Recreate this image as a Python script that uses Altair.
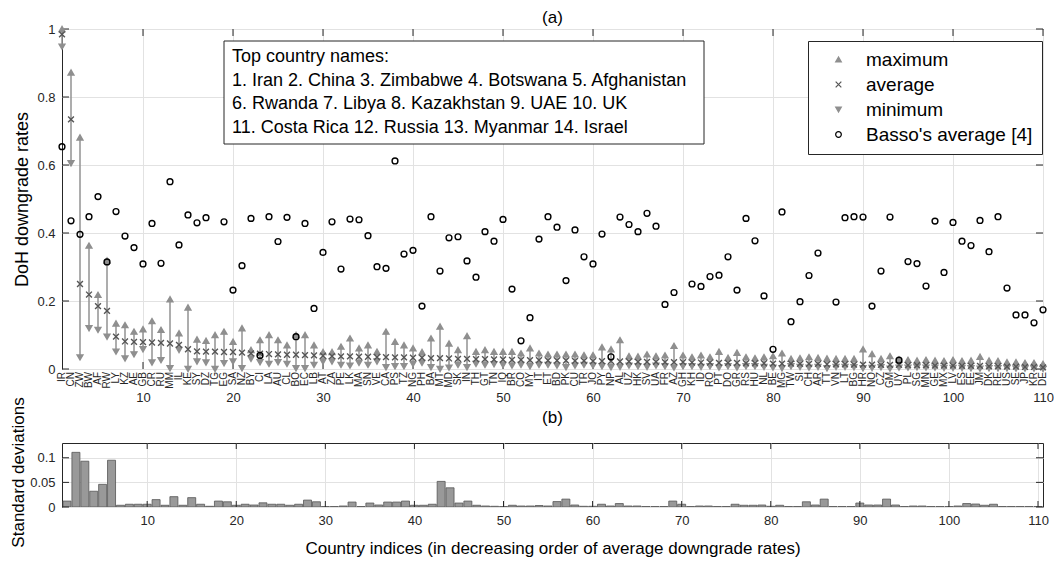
import altair as alt
import pandas as pd
import numpy as np

codes = ["IR", "CN", "ZW", "BW", "AF", "RW", "LY", "KZ", "AE", "GB",
         "CR", "RU", "MM", "IL", "KE", "SY", "DZ", "TG", "EG", "SA",
         "NZ", "BY", "CI", "LA", "AU", "CL", "BO", "EC", "LB", "AT",
         "ZA", "PE", "LK", "MA", "SN", "VE", "CA", "PS", "TZ", "NG",
         "PH", "BA", "MT", "MD", "SK", "IN", "TH", "GT", "TN", "IQ",
         "BR", "CO", "MY", "IT", "ET", "BD", "PK", "CU", "TR", "JO",
         "PY", "NP", "AL", "UZ", "HK", "SV", "UA", "FR", "AZ", "GH",
         "KH", "ID", "RO", "PT", "DO", "GR", "RS", "HU", "NL", "BE",
         "MG", "TW", "SI", "CH", "AR", "TT", "VN", "LT", "BG", "HR",
         "NO", "CZ", "GM", "UY", "PL", "SG", "MN", "GE", "MX", "LV",
         "ES", "EE", "JM", "DK", "RE", "US", "SE", "JP", "KR", "DE"]

avg = [0.984, 0.734, 0.250, 0.219, 0.185, 0.171, 0.095, 0.081, 0.080, 0.079,
       0.078, 0.077, 0.075, 0.071, 0.058, 0.052, 0.051, 0.051, 0.050, 0.050,
       0.048, 0.046, 0.045, 0.044, 0.043, 0.042, 0.042, 0.041, 0.040, 0.039,
       0.038, 0.037, 0.037, 0.036, 0.036, 0.035, 0.035, 0.034, 0.034, 0.033,
       0.033, 0.032, 0.032, 0.031, 0.030, 0.030, 0.029, 0.029, 0.028, 0.028,
       0.027, 0.027, 0.026, 0.026, 0.025, 0.025, 0.025, 0.024, 0.024, 0.023,
       0.023, 0.023, 0.022, 0.022, 0.021, 0.021, 0.021, 0.020, 0.020, 0.020,
       0.019, 0.019, 0.019, 0.018, 0.018, 0.018, 0.017, 0.017, 0.017, 0.016,
       0.016, 0.016, 0.015, 0.015, 0.015, 0.014, 0.014, 0.014, 0.013, 0.013,
       0.013, 0.012, 0.012, 0.012, 0.011, 0.011, 0.011, 0.010, 0.010, 0.010,
       0.009, 0.009, 0.009, 0.008, 0.008, 0.007, 0.007, 0.006, 0.006, 0.005]

maxima = [1.000, 0.872, 0.681, 0.363, 0.218, 0.319, 0.134, 0.129, 0.110, 0.117,
          0.141, 0.115, 0.205, 0.105, 0.181, 0.087, 0.083, 0.100, 0.110, 0.080,
          0.120, 0.056, 0.085, 0.100, 0.085, 0.070, 0.100, 0.100, 0.070, 0.050,
          0.050, 0.066, 0.090, 0.061, 0.070, 0.051, 0.110, 0.080, 0.070, 0.061,
          0.050, 0.090, 0.125, 0.075, 0.056, 0.097, 0.051, 0.056, 0.051, 0.051,
          0.051, 0.046, 0.061, 0.046, 0.043, 0.043, 0.043, 0.043, 0.041, 0.041,
          0.064, 0.058, 0.085, 0.038, 0.037, 0.043, 0.038, 0.040, 0.068, 0.040,
          0.035, 0.040, 0.035, 0.051, 0.033, 0.048, 0.035, 0.032, 0.035, 0.038,
          0.046, 0.030, 0.032, 0.035, 0.033, 0.031, 0.030, 0.030, 0.030, 0.058,
          0.044, 0.030, 0.038, 0.028, 0.027, 0.025, 0.027, 0.025, 0.024, 0.027,
          0.024, 0.025, 0.036, 0.025, 0.024, 0.020, 0.020, 0.018, 0.018, 0.015]

minima = [0.948, 0.605, 0.034, 0.120, 0.115, 0.095, 0.051, 0.031, 0.043, 0.058,
          0.019, 0.026, 0.002, 0.056, 0.000, 0.022, 0.019, 0.000, 0.017, 0.022,
          0.002, 0.030, 0.020, 0.015, 0.020, 0.015, 0.002, 0.002, 0.012, 0.022,
          0.022, 0.012, 0.010, 0.018, 0.012, 0.022, 0.005, 0.008, 0.008, 0.015,
          0.018, 0.005, 0.000, 0.004, 0.012, 0.005, 0.015, 0.012, 0.014, 0.012,
          0.010, 0.012, 0.008, 0.012, 0.012, 0.010, 0.005, 0.010, 0.012, 0.010,
          0.008, 0.005, 0.006, 0.010, 0.008, 0.006, 0.010, 0.008, 0.004, 0.008,
          0.008, 0.006, 0.008, 0.004, 0.008, 0.004, 0.008, 0.008, 0.006, 0.004,
          0.002, 0.008, 0.006, 0.004, 0.006, 0.002, 0.006, 0.006, 0.005, 0.002,
          0.003, 0.005, 0.001, 0.004, 0.004, 0.005, 0.004, 0.004, 0.003, 0.003,
          0.003, 0.002, 0.001, 0.002, 0.002, 0.002, 0.001, 0.001, 0.001, 0.000]

basso = [0.654, 0.436, 0.396, 0.448, 0.507, 0.315, 0.463, 0.391, 0.357, 0.309,
         0.428, 0.311, 0.551, 0.365, 0.453, 0.430, 0.445, None, 0.433, 0.232,
         0.304, 0.443, 0.040, 0.448, 0.375, 0.446, 0.095, 0.428, 0.178, 0.343,
         0.433, 0.294, 0.441, 0.439, 0.392, 0.301, 0.296, 0.612, 0.338, 0.349,
         0.185, 0.448, 0.288, 0.386, 0.389, 0.318, 0.270, 0.404, 0.376, 0.440,
         0.235, 0.083, 0.151, 0.382, 0.448, 0.417, 0.260, 0.409, 0.330, 0.309,
         0.397, 0.036, 0.447, 0.425, 0.404, 0.458, 0.420, 0.190, 0.225, None,
         0.250, 0.243, 0.272, 0.276, 0.330, 0.232, 0.443, 0.377, 0.215, 0.058,
         0.462, 0.139, 0.198, 0.275, 0.341, None, 0.197, 0.445, 0.448, 0.447,
         0.185, 0.288, 0.447, 0.026, 0.316, 0.310, 0.244, 0.435, 0.284, 0.431,
         0.376, 0.363, 0.437, 0.345, 0.448, 0.238, 0.159, 0.159, 0.136, 0.174]

stdev = [0.012, 0.111, 0.093, 0.032, 0.046, 0.095, 0.0035, 0.0056, 0.0056, 0.0056,
         0.015, 0.0035, 0.021, 0.0035, 0.019, 0.0056, 0.0014, 0.012, 0.0106, 0.0035,
         0.0056, 0.004, 0.0085, 0.0056, 0.0056, 0.0035, 0.0056, 0.014, 0.0106, 0.001,
         0.001, 0.002, 0.010, 0.001, 0.008, 0.004, 0.010, 0.010, 0.012, 0.0035,
         0.0035, 0.0056, 0.052, 0.039, 0.008, 0.012, 0.0035, 0.002, 0.0014, 0.001,
         0.0035, 0.002, 0.002, 0.003, 0.002, 0.011, 0.016, 0.004, 0.0014, 0.0014,
         0.0056, 0.002, 0.007, 0.002, 0.002, 0.001, 0.001, 0.001, 0.012, 0.0056,
         0.001, 0.002, 0.002, 0.001, 0.001, 0.0056, 0.0035, 0.0035, 0.004, 0.0014,
         0.0035, 0.001, 0.001, 0.0106, 0.004, 0.016, 0.001, 0.001, 0.001, 0.008,
         0.004, 0.004, 0.016, 0.004, 0.001, 0.002, 0.002, 0.001, 0.001, 0.001,
         0.002, 0.007, 0.006, 0.0035, 0.0056, 0.001, 0.001, 0.001, 0.001, 0.001]

series_names = ["maximum", "average", "minimum", "Basso's average [4]"]
box_lines = ["Top country names:",
             "1. Iran 2. China 3. Zimbabwe 4. Botswana 5. Afghanistan",
             "6. Rwanda 7. Libya 8. Kazakhstan 9. UAE 10. UK",
             "11. Costa Rica 12. Russia 13. Myanmar 14. Israel"]
panel_titles = ["(a)", "(b)"]
xticks = [10, 20, 30, 40, 50, 60, 70, 80, 90, 100, 110]
yticks_top = [0, 0.2, 0.4, 0.6, 0.8, 1.0]
yticks_bot = [0, 0.05, 0.1]

idx = list(range(1, len(codes) + 1))
wide = pd.DataFrame({"idx": idx, "code": codes, "avg": avg, "max": maxima,
                     "min": minima, "std": stdev})
long = pd.concat([
    pd.DataFrame({"idx": idx, "value": maxima, "series": "maximum"}),
    pd.DataFrame({"idx": idx, "value": minima, "series": "minimum"}),
    pd.DataFrame({"idx": idx, "value": avg, "series": "average"}),
    pd.DataFrame({"idx": idx, "value": [np.nan if v is None else v for v in basso],
                  "series": "Basso's average [4]"}),
]).dropna()

W, H1, H2 = 981, 340, 64
DARK = "#262626"

xscale_top = alt.Scale(domain=[1, 110], nice=False, zero=False)
x_top = alt.X("idx:Q", scale=xscale_top, title=None,
              axis=alt.Axis(values=xticks, grid=True, ticks=False, domain=False,
                            labelPadding=22, labelFlush=False, labelOverlap=False))


def y_top(field):
    return alt.Y(field, type="quantitative", scale=alt.Scale(domain=[0, 1], nice=False),
                 title="DoH downgrade rates",
                 axis=alt.Axis(values=yticks_top, grid=True, ticks=False, domain=False,
                               labelExpr="format(datum.value, '~g')", labelPadding=7,
                               titleAngle=270, titleBaseline="middle", titleAlign="center",
                               titleX=-40, titleY=H1 / 2, titleFontSize=18))


one = pd.DataFrame({"k": [0]})

rules = alt.Chart(wide).mark_rule(color="#999999", strokeWidth=1.6).encode(
    x=x_top, y=y_top("min"), y2="max")

leg = alt.Legend(orient="none", legendX=746, legendY=12, title=None, labelLimit=400)
points = alt.Chart(long).mark_point(size=34, strokeWidth=1.4, opacity=1, filled=False).encode(
    x=x_top, y=y_top("value"),
    shape=alt.Shape("series:N", legend=leg,
                    scale=alt.Scale(domain=series_names,
                                    range=["triangle-up", "M-1,-1L1,1M-1,1L1,-1",
                                           "triangle-down", "circle"])),
    stroke=alt.Stroke("series:N", legend=leg,
                      scale=alt.Scale(domain=series_names,
                                      range=["#8f8f8f", "#555555", "#8f8f8f", "#000000"])),
    fill=alt.Fill("series:N", legend=leg,
                  scale=alt.Scale(domain=series_names,
                                  range=["#8f8f8f", "transparent", "#8f8f8f", "transparent"])),
)

code_text = alt.Chart(wide).mark_text(angle=270, align="right", baseline="middle",
                                      fontSize=10, color=DARK).encode(
    x=x_top, y=alt.value(H1 + 3), text="code:N")

xt = pd.DataFrame({"idx": xticks})
yt = pd.DataFrame({"value": yticks_top})
tick_top = alt.Chart(xt).mark_rule(color=DARK).encode(x=x_top, y=alt.value(0), y2=alt.value(7))
tick_bottom = alt.Chart(xt).mark_rule(color=DARK).encode(x=x_top, y=alt.value(H1 - 7), y2=alt.value(H1))
tick_left = alt.Chart(yt).mark_rule(color=DARK).encode(y=y_top("value"), x=alt.value(0), x2=alt.value(7))
tick_right = alt.Chart(yt).mark_rule(color=DARK).encode(y=y_top("value"), x=alt.value(W - 7), x2=alt.value(W))

box = alt.Chart(one).mark_rect(fill="white", stroke=DARK, strokeWidth=1).encode(
    x=alt.value(162), x2=alt.value(642), y=alt.value(12), y2=alt.value(115))
box_text = alt.Chart(one).mark_text(text=box_lines, align="left", baseline="top",
                                    fontSize=18, lineHeight=23.5, color="#000000").encode(
    x=alt.value(170), y=alt.value(19))
title_a = alt.Chart(one).mark_text(text=panel_titles[0], align="center", baseline="bottom",
                                   fontSize=17, color="#000000").encode(
    x=alt.value(W / 2), y=alt.value(-2))

top = alt.layer(tick_top, tick_bottom, tick_left, tick_right, rules, points, code_text,
                box, box_text, title_a).properties(width=W, height=H1)

# bottom panel
x_bot = alt.X("idx:Q", scale=alt.Scale(domain=[1, 110], nice=False, zero=False),
              title="Country indices (in decreasing order of average downgrade rates)",
              axis=alt.Axis(values=xticks, grid=True, ticks=False, domain=False,
                            labelPadding=7, titlePadding=13, titleFontSize=17,
                            labelFlush=False, labelOverlap=False))


def y_bot(field):
    return alt.Y(field, type="quantitative", scale=alt.Scale(domain=[0, 0.13], nice=False),
                 title="Standard deviations",
                 axis=alt.Axis(values=yticks_bot, grid=True, ticks=False, domain=False,
                               labelExpr="format(datum.value, '~g')", labelPadding=7,
                               titleAngle=270, titleBaseline="middle", titleAlign="center",
                               titleX=-44, titleY=H2 / 2 - 3, titleFontSize=17))


bars = alt.Chart(wide).mark_bar(width=8, fill="#999999", stroke="#555555",
                                strokeWidth=0.8, clip=True).encode(x=x_bot, y=y_bot("std"))
ytb = pd.DataFrame({"value": yticks_bot})
btick_top = alt.Chart(xt).mark_rule(color=DARK).encode(x=x_bot, y=alt.value(0), y2=alt.value(6))
btick_bottom = alt.Chart(xt).mark_rule(color=DARK).encode(x=x_bot, y=alt.value(H2 - 6), y2=alt.value(H2))
btick_left = alt.Chart(ytb).mark_rule(color=DARK).encode(y=y_bot("value"), x=alt.value(0), x2=alt.value(7))
btick_right = alt.Chart(ytb).mark_rule(color=DARK).encode(y=y_bot("value"), x=alt.value(W - 7), x2=alt.value(W))
title_b = alt.Chart(one).mark_text(text=panel_titles[1], align="center", baseline="bottom",
                                   fontSize=17, color="#000000").encode(
    x=alt.value(W / 2), y=alt.value(-16))

bottom = alt.layer(bars, btick_top, btick_bottom, btick_left, btick_right,
                   title_b).properties(width=W, height=H2)

chart = alt.vconcat(top, bottom, spacing=74, bounds="flush").properties(
    padding={"left": 0, "top": 0, "right": 0, "bottom": 0}
).configure(font="Liberation Sans").configure_view(
    stroke=DARK, strokeWidth=1
).configure_axis(
    labelFontSize=13, labelColor=DARK, titleColor="#000000", titleFontWeight="normal",
    gridColor="#e2e2e2", gridWidth=1
).configure_legend(
    labelFontSize=19, labelColor="#000000", strokeColor=DARK, fillColor="white",
    padding=9, rowPadding=5, symbolOffset=12, labelOffset=18, symbolSize=32,
    symbolStrokeWidth=1.2, labelLimit=400
).configure_title(color="#000000")

chart.save("out.html", embed_options={"renderer": "svg", "actions": False})
